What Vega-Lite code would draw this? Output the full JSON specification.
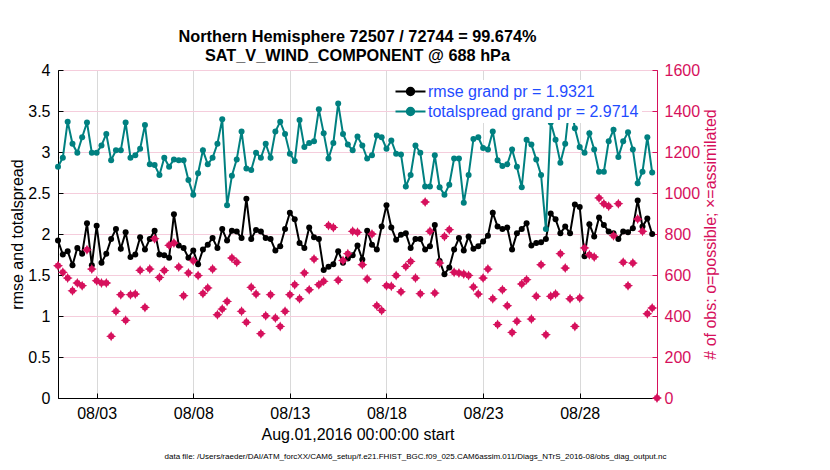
{
  "$schema": "https://vega.github.io/schema/vega-lite/v6.json",
  "width": 599,
  "height": 328,
  "autosize": "none",
  "padding": {"left": 58, "top": 70, "right": 173, "bottom": 72},
  "config": {
    "font": "Liberation Sans",
    "view": {"stroke": "#000000", "strokeWidth": 1},
    "axis": {"labelFontSize": 16, "titleFontSize": 16, "titleFontWeight": "normal", "labelColor": "#000000", "titleColor": "#000000", "domainColor": "#000000", "tickColor": "#000000", "labelFont": "Liberation Sans", "titleFont": "Liberation Sans"}
  },
  "title": {"text": ["Northern Hemisphere 72507 / 72744 = 99.674%", "SAT_V_WIND_COMPONENT @ 688 hPa"], "fontSize": 16.3, "fontWeight": "bold", "lineHeight": 19, "offset": -2, "anchor": "middle", "frame": "group", "font": "Liberation Sans", "color": "#000000"},
  "data": {"values": [
    {"t":"2016-08-01T00:00","rmse":1.92,"totalspread":2.82,"nobs":645},
    {"t":"2016-08-01T06:00","rmse":1.75,"totalspread":2.93,"nobs":613},
    {"t":"2016-08-01T12:00","rmse":1.79,"totalspread":3.37,"nobs":585},
    {"t":"2016-08-01T18:00","rmse":1.62,"totalspread":3.10,"nobs":523},
    {"t":"2016-08-02T00:00","rmse":1.83,"totalspread":2.99,"nobs":561},
    {"t":"2016-08-02T06:00","rmse":1.76,"totalspread":3.18,"nobs":548},
    {"t":"2016-08-02T12:00","rmse":2.13,"totalspread":3.36,"nobs":723},
    {"t":"2016-08-02T18:00","rmse":1.62,"totalspread":2.99,"nobs":629},
    {"t":"2016-08-03T00:00","rmse":2.10,"totalspread":2.99,"nobs":572},
    {"t":"2016-08-03T06:00","rmse":1.65,"totalspread":3.08,"nobs":561},
    {"t":"2016-08-03T12:00","rmse":1.76,"totalspread":3.22,"nobs":561},
    {"t":"2016-08-03T18:00","rmse":1.94,"totalspread":2.90,"nobs":301},
    {"t":"2016-08-04T00:00","rmse":2.06,"totalspread":3.02,"nobs":423},
    {"t":"2016-08-04T06:00","rmse":1.82,"totalspread":3.02,"nobs":504},
    {"t":"2016-08-04T12:00","rmse":2.02,"totalspread":3.36,"nobs":379},
    {"t":"2016-08-04T18:00","rmse":1.72,"totalspread":2.93,"nobs":504},
    {"t":"2016-08-05T00:00","rmse":1.75,"totalspread":2.96,"nobs":507},
    {"t":"2016-08-05T06:00","rmse":1.96,"totalspread":3.04,"nobs":623},
    {"t":"2016-08-05T12:00","rmse":1.81,"totalspread":3.33,"nobs":442},
    {"t":"2016-08-05T18:00","rmse":1.94,"totalspread":2.85,"nobs":629},
    {"t":"2016-08-06T00:00","rmse":2.04,"totalspread":2.84,"nobs":777},
    {"t":"2016-08-06T06:00","rmse":1.75,"totalspread":2.72,"nobs":588},
    {"t":"2016-08-06T12:00","rmse":1.74,"totalspread":2.93,"nobs":622},
    {"t":"2016-08-06T18:00","rmse":1.71,"totalspread":2.82,"nobs":745},
    {"t":"2016-08-07T00:00","rmse":2.24,"totalspread":2.91,"nobs":756},
    {"t":"2016-08-07T06:00","rmse":1.86,"totalspread":2.90,"nobs":639},
    {"t":"2016-08-07T12:00","rmse":1.83,"totalspread":2.90,"nobs":499},
    {"t":"2016-08-07T18:00","rmse":1.71,"totalspread":2.66,"nobs":610},
    {"t":"2016-08-08T00:00","rmse":1.80,"totalspread":2.48,"nobs":670},
    {"t":"2016-08-08T06:00","rmse":1.63,"totalspread":2.74,"nobs":597},
    {"t":"2016-08-08T12:00","rmse":1.81,"totalspread":3.02,"nobs":510},
    {"t":"2016-08-08T18:00","rmse":1.87,"totalspread":2.85,"nobs":537},
    {"t":"2016-08-09T00:00","rmse":1.95,"totalspread":2.93,"nobs":629},
    {"t":"2016-08-09T06:00","rmse":1.83,"totalspread":3.10,"nobs":406},
    {"t":"2016-08-09T12:00","rmse":2.06,"totalspread":3.40,"nobs":434},
    {"t":"2016-08-09T18:00","rmse":1.92,"totalspread":2.35,"nobs":471},
    {"t":"2016-08-10T00:00","rmse":2.04,"totalspread":2.71,"nobs":683},
    {"t":"2016-08-10T06:00","rmse":2.03,"totalspread":2.91,"nobs":662},
    {"t":"2016-08-10T12:00","rmse":1.95,"totalspread":3.25,"nobs":423},
    {"t":"2016-08-10T18:00","rmse":2.43,"totalspread":2.80,"nobs":369},
    {"t":"2016-08-11T00:00","rmse":1.94,"totalspread":2.78,"nobs":540},
    {"t":"2016-08-11T06:00","rmse":2.05,"totalspread":2.99,"nobs":507},
    {"t":"2016-08-11T12:00","rmse":2.03,"totalspread":2.93,"nobs":314},
    {"t":"2016-08-11T18:00","rmse":1.95,"totalspread":3.10,"nobs":401},
    {"t":"2016-08-12T00:00","rmse":1.94,"totalspread":2.93,"nobs":504},
    {"t":"2016-08-12T06:00","rmse":1.80,"totalspread":3.25,"nobs":390},
    {"t":"2016-08-12T12:00","rmse":1.85,"totalspread":3.37,"nobs":349},
    {"t":"2016-08-12T18:00","rmse":2.06,"totalspread":3.22,"nobs":423},
    {"t":"2016-08-13T00:00","rmse":2.26,"totalspread":2.98,"nobs":504},
    {"t":"2016-08-13T06:00","rmse":2.18,"totalspread":2.89,"nobs":553},
    {"t":"2016-08-13T12:00","rmse":1.89,"totalspread":3.39,"nobs":484},
    {"t":"2016-08-13T18:00","rmse":1.83,"totalspread":3.06,"nobs":610},
    {"t":"2016-08-14T00:00","rmse":2.08,"totalspread":3.11,"nobs":528},
    {"t":"2016-08-14T06:00","rmse":1.96,"totalspread":3.13,"nobs":678},
    {"t":"2016-08-14T12:00","rmse":1.94,"totalspread":3.52,"nobs":553},
    {"t":"2016-08-14T18:00","rmse":1.56,"totalspread":3.23,"nobs":569},
    {"t":"2016-08-15T00:00","rmse":1.60,"totalspread":2.92,"nobs":842},
    {"t":"2016-08-15T06:00","rmse":1.63,"totalspread":3.11,"nobs":832},
    {"t":"2016-08-15T12:00","rmse":1.79,"totalspread":3.59,"nobs":575},
    {"t":"2016-08-15T18:00","rmse":1.65,"totalspread":3.22,"nobs":671},
    {"t":"2016-08-16T00:00","rmse":1.70,"totalspread":3.09,"nobs":704},
    {"t":"2016-08-16T06:00","rmse":1.74,"totalspread":3.02,"nobs":813},
    {"t":"2016-08-16T12:00","rmse":1.86,"totalspread":3.19,"nobs":808},
    {"t":"2016-08-16T18:00","rmse":1.69,"totalspread":3.08,"nobs":650},
    {"t":"2016-08-17T00:00","rmse":2.04,"totalspread":2.92,"nobs":580},
    {"t":"2016-08-17T06:00","rmse":1.87,"totalspread":2.96,"nobs":800},
    {"t":"2016-08-17T12:00","rmse":1.81,"totalspread":3.20,"nobs":450},
    {"t":"2016-08-17T18:00","rmse":2.09,"totalspread":3.18,"nobs":427},
    {"t":"2016-08-18T00:00","rmse":2.35,"totalspread":3.04,"nobs":548},
    {"t":"2016-08-18T06:00","rmse":2.08,"totalspread":3.14,"nobs":545},
    {"t":"2016-08-18T12:00","rmse":1.93,"totalspread":2.98,"nobs":597},
    {"t":"2016-08-18T18:00","rmse":1.99,"totalspread":2.97,"nobs":518},
    {"t":"2016-08-19T00:00","rmse":2.01,"totalspread":2.58,"nobs":642},
    {"t":"2016-08-19T06:00","rmse":1.83,"totalspread":2.72,"nobs":666},
    {"t":"2016-08-19T12:00","rmse":1.94,"totalspread":3.08,"nobs":585},
    {"t":"2016-08-19T18:00","rmse":1.94,"totalspread":2.99,"nobs":509},
    {"t":"2016-08-20T00:00","rmse":1.81,"totalspread":2.58,"nobs":956},
    {"t":"2016-08-20T06:00","rmse":1.85,"totalspread":2.58,"nobs":813},
    {"t":"2016-08-20T12:00","rmse":2.11,"totalspread":2.96,"nobs":512},
    {"t":"2016-08-20T18:00","rmse":1.67,"totalspread":2.57,"nobs":658},
    {"t":"2016-08-21T00:00","rmse":1.51,"totalspread":2.48,"nobs":788},
    {"t":"2016-08-21T06:00","rmse":1.59,"totalspread":2.60,"nobs":821},
    {"t":"2016-08-21T12:00","rmse":1.81,"totalspread":2.92,"nobs":613},
    {"t":"2016-08-21T18:00","rmse":1.95,"totalspread":2.92,"nobs":610},
    {"t":"2016-08-22T00:00","rmse":1.80,"totalspread":2.38,"nobs":605},
    {"t":"2016-08-22T06:00","rmse":1.97,"totalspread":2.72,"nobs":598},
    {"t":"2016-08-22T12:00","rmse":1.82,"totalspread":3.16,"nobs":541},
    {"t":"2016-08-22T18:00","rmse":1.85,"totalspread":3.18,"nobs":507},
    {"t":"2016-08-23T00:00","rmse":1.91,"totalspread":3.05,"nobs":585},
    {"t":"2016-08-23T06:00","rmse":1.98,"totalspread":3.03,"nobs":629},
    {"t":"2016-08-23T12:00","rmse":2.26,"totalspread":3.25,"nobs":484},
    {"t":"2016-08-23T18:00","rmse":2.09,"totalspread":2.90,"nobs":358},
    {"t":"2016-08-24T00:00","rmse":2.06,"totalspread":2.83,"nobs":528},
    {"t":"2016-08-24T06:00","rmse":2.08,"totalspread":2.85,"nobs":450},
    {"t":"2016-08-24T12:00","rmse":1.81,"totalspread":3.03,"nobs":320},
    {"t":"2016-08-24T18:00","rmse":2.01,"totalspread":2.82,"nobs":374},
    {"t":"2016-08-25T00:00","rmse":2.06,"totalspread":2.57,"nobs":556},
    {"t":"2016-08-25T06:00","rmse":2.13,"totalspread":3.15,"nobs":577},
    {"t":"2016-08-25T12:00","rmse":1.86,"totalspread":3.09,"nobs":385},
    {"t":"2016-08-25T18:00","rmse":1.89,"totalspread":2.91,"nobs":496},
    {"t":"2016-08-26T00:00","rmse":1.90,"totalspread":2.72,"nobs":650},
    {"t":"2016-08-26T06:00","rmse":1.94,"totalspread":2.06,"nobs":309},
    {"t":"2016-08-26T12:00","rmse":2.25,"totalspread":3.36,"nobs":496},
    {"t":"2016-08-26T18:00","rmse":2.18,"totalspread":3.15,"nobs":507},
    {"t":"2016-08-27T00:00","rmse":2.01,"totalspread":2.87,"nobs":704},
    {"t":"2016-08-27T06:00","rmse":2.09,"totalspread":3.10,"nobs":634},
    {"t":"2016-08-27T12:00","rmse":2.01,"totalspread":3.64,"nobs":484},
    {"t":"2016-08-27T18:00","rmse":2.36,"totalspread":3.29,"nobs":349},
    {"t":"2016-08-28T00:00","rmse":2.33,"totalspread":3.06,"nobs":488},
    {"t":"2016-08-28T06:00","rmse":1.73,"totalspread":2.99,"nobs":732},
    {"t":"2016-08-28T12:00","rmse":2.12,"totalspread":3.23,"nobs":699},
    {"t":"2016-08-28T18:00","rmse":1.97,"totalspread":3.03,"nobs":688},
    {"t":"2016-08-29T00:00","rmse":2.20,"totalspread":2.76,"nobs":976},
    {"t":"2016-08-29T06:00","rmse":2.11,"totalspread":2.76,"nobs":948},
    {"t":"2016-08-29T12:00","rmse":2.03,"totalspread":3.13,"nobs":935},
    {"t":"2016-08-29T18:00","rmse":2.01,"totalspread":3.27,"nobs":792},
    {"t":"2016-08-30T00:00","rmse":1.94,"totalspread":2.94,"nobs":948},
    {"t":"2016-08-30T06:00","rmse":2.03,"totalspread":3.13,"nobs":662},
    {"t":"2016-08-30T12:00","rmse":2.02,"totalspread":3.24,"nobs":548},
    {"t":"2016-08-30T18:00","rmse":2.07,"totalspread":3.03,"nobs":658},
    {"t":"2016-08-31T00:00","rmse":2.41,"totalspread":2.62,"nobs":873},
    {"t":"2016-08-31T06:00","rmse":2.09,"totalspread":2.76,"nobs":813},
    {"t":"2016-08-31T12:00","rmse":2.19,"totalspread":3.18,"nobs":411},
    {"t":"2016-08-31T18:00","rmse":2.00,"totalspread":2.75,"nobs":439},
    {"t":"2016-09-01T00:00","rmse":null,"totalspread":null,"nobs":0}
  ]},
  "layer": [
    {
      "transform": [{"fold": ["rmse", "totalspread"], "as": ["series", "val"]}],
      "encoding": {
        "x": {"field": "t", "type": "temporal",
          "scale": {"domain": [{"year": 2016, "month": 8, "date": 1}, {"year": 2016, "month": 9, "date": 1}], "nice": false},
          "axis": {"orient": "bottom", "values": [{"year": 2016, "month": 8, "date": 3}, {"year": 2016, "month": 8, "date": 8}, {"year": 2016, "month": 8, "date": 13}, {"year": 2016, "month": 8, "date": 18}, {"year": 2016, "month": 8, "date": 23}, {"year": 2016, "month": 8, "date": 28}],
            "format": "%m/%d", "title": "Aug.01,2016 00:00:00 start", "grid": true, "gridColor": "#d9d9d9", "tickSize": -5, "labelPadding": 12, "titlePadding": 5, "labelFlush": false}},
        "y": {"field": "val", "type": "quantitative",
          "scale": {"domain": [0, 4], "nice": false},
          "axis": {"orient": "left", "values": [0, 0.5, 1, 1.5, 2, 2.5, 3, 3.5, 4], "format": "~g", "title": "rmse and totalspread", "grid": false, "tickSize": -5, "labelPadding": 13, "titlePadding": 2}},
        "color": {"field": "series", "type": "nominal",
          "scale": {"domain": ["rmse", "totalspread"], "range": ["#000000", "#008080"]},
          "legend": {"orient": "none", "legendX": 341, "legendY": 10, "title": null, "labelFontSize": 16, "labelFont": "Liberation Sans", "labelColor": "#1f4cff", "labelLimit": 400,
            "labelExpr": "datum.label == 'rmse' ? 'rmse grand pr = 1.9321' : 'totalspread grand pr = 2.9714'",
            "symbolType": "M-2,0H2M0.5,0A0.5,0.5,0,1,1,-0.5,0A0.5,0.5,0,1,1,0.5,0Z", "symbolSize": 225, "symbolStrokeWidth": 2,
            "fillColor": "#ffffff", "padding": 3, "rowPadding": 3, "labelOffset": 9}}
      },
      "layer": [
        {"mark": {"type": "line", "strokeWidth": 2}},
        {"mark": {"type": "point", "filled": true, "size": 36, "opacity": 1}}
      ]
    },
    {
      "encoding": {
        "x": {"field": "t", "type": "temporal",
          "scale": {"domain": [{"year": 2016, "month": 8, "date": 1}, {"year": 2016, "month": 9, "date": 1}], "nice": false},
          "axis": {"orient": "bottom", "labels": false, "ticks": false, "domain": false, "grid": false, "offset": 0,
            "title": "data file: /Users/raeder/DAI/ATM_forcXX/CAM6_setup/f.e21.FHIST_BGC.f09_025.CAM6assim.011/Diags_NTrS_2016-08/obs_diag_output.nc",
            "titleFontSize": 8, "titlePadding": 54, "titleX": 357}},
        "y": {"field": "nobs", "type": "quantitative",
          "scale": {"domain": [0, 1600], "nice": false},
          "axis": {"orient": "right", "values": [0, 200, 400, 600, 800, 1000, 1200, 1400, 1600], "format": "d", "title": "# of obs: o=possible; \u00d7=assimilated",
            "grid": true, "gridColor": "#f5cddc", "labelColor": "#d6105c", "titleColor": "#d6105c", "domainColor": "#d6105c", "tickColor": "#d6105c",
            "tickSize": -5, "labelPadding": 12, "titlePadding": 3, "titleAngle": 270, "titleBaseline": "top"}}
      },
      "mark": {"type": "point", "shape": "M1,0L0.55,0.23L0.5,0.5L0.23,0.55L0,1L-0.23,0.55L-0.5,0.5L-0.55,0.23L-1,0L-0.55,-0.23L-0.5,-0.5L-0.23,-0.55L0,-1L0.23,-0.55L0.5,-0.5L0.55,-0.23Z", "filled": true, "size": 100, "opacity": 1, "color": "#d6105c"}
    }
  ],
  "resolve": {"scale": {"y": "independent"}, "axis": {"x": "independent", "y": "independent"}}
}
